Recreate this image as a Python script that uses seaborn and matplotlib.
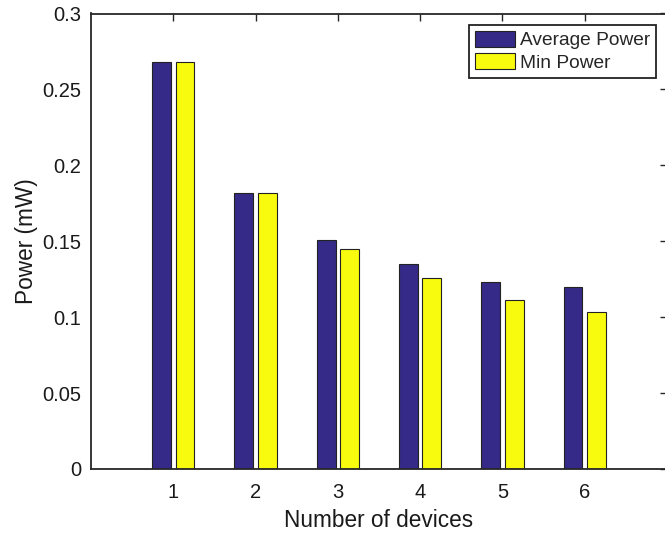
import matplotlib
matplotlib.use("Agg")
import matplotlib.pyplot as plt
import seaborn as sns
import pandas as pd

devices = ["1", "2", "3", "4", "5", "6"]
average_power = [0.268, 0.182, 0.1505, 0.135, 0.1233, 0.1198]
min_power = [0.268, 0.182, 0.145, 0.1257, 0.111, 0.1035]
series_names = ["Average Power", "Min Power"]
y_ticks = [0, 0.05, 0.1, 0.15, 0.2, 0.25, 0.3]
y_tick_labels = ["0", "0.05", "0.1", "0.15", "0.2", "0.25", "0.3"]

df = pd.DataFrame({
    "devices": devices * 2,
    "power": average_power + min_power,
    "series": [series_names[0]] * len(devices) + [series_names[1]] * len(devices),
})

sns.set_style("white")
plt.rcParams["font.family"] = ["Liberation Sans", "DejaVu Sans"]

W, H = 665, 533
fig = plt.figure(figsize=(W / 100, H / 100), dpi=100)
ax = fig.add_axes([91 / W, (H - 469) / H, (667 - 91) / W, (469 - 13.5) / H])

palette = {series_names[0]: "#352A87", series_names[1]: "#F9FB0E"}
sns.barplot(data=df, x="devices", y="power", hue="series", order=devices,
            hue_order=series_names, palette=palette, width=0.57, gap=0.2,
            edgecolor="#222222", linewidth=0.8, saturation=1, ax=ax)

ax.set_xlim(-1, 6)
ax.set_ylim(0, 0.3)
ax.set_yticks(y_ticks)
ax.set_yticklabels(y_tick_labels)
ax.set_xticks(range(len(devices)))
ax.set_xticklabels(devices)

axis_color = "#262626"
for side, sp in ax.spines.items():
    sp.set_visible(True)
    sp.set_color(axis_color)
    sp.set_linewidth(1.3)
ax.tick_params(axis="both", direction="in", length=5, width=1.0, color=axis_color,
               labelsize=14.5, labelcolor="#1a1a1a", top=True, right=True)
ax.tick_params(axis="x", pad=10)
ax.tick_params(axis="y", pad=7)

ax.set_xlabel("Number of devices", fontsize=16.3, color="#1a1a1a", labelpad=5)
ax.set_ylabel("Power (mW)", fontsize=16.3, color="#1a1a1a", labelpad=3)

ax.get_legend().remove()
handles, labels = ax.get_legend_handles_labels()
leg = ax.legend(handles[:2], labels[:2], loc="upper right",
                bbox_to_anchor=(656 / W, (H - 25) / H), bbox_transform=fig.transFigure,
                fontsize=13.75, frameon=True, fancybox=False, edgecolor="#222222",
                handlelength=2.1, handleheight=0.9, handletextpad=0.26,
                labelspacing=0.22, borderpad=0.3, borderaxespad=0)
leg.get_frame().set_linewidth(1.3)
leg.get_frame().set_alpha(1)

fig.savefig("out.png", dpi=100)
